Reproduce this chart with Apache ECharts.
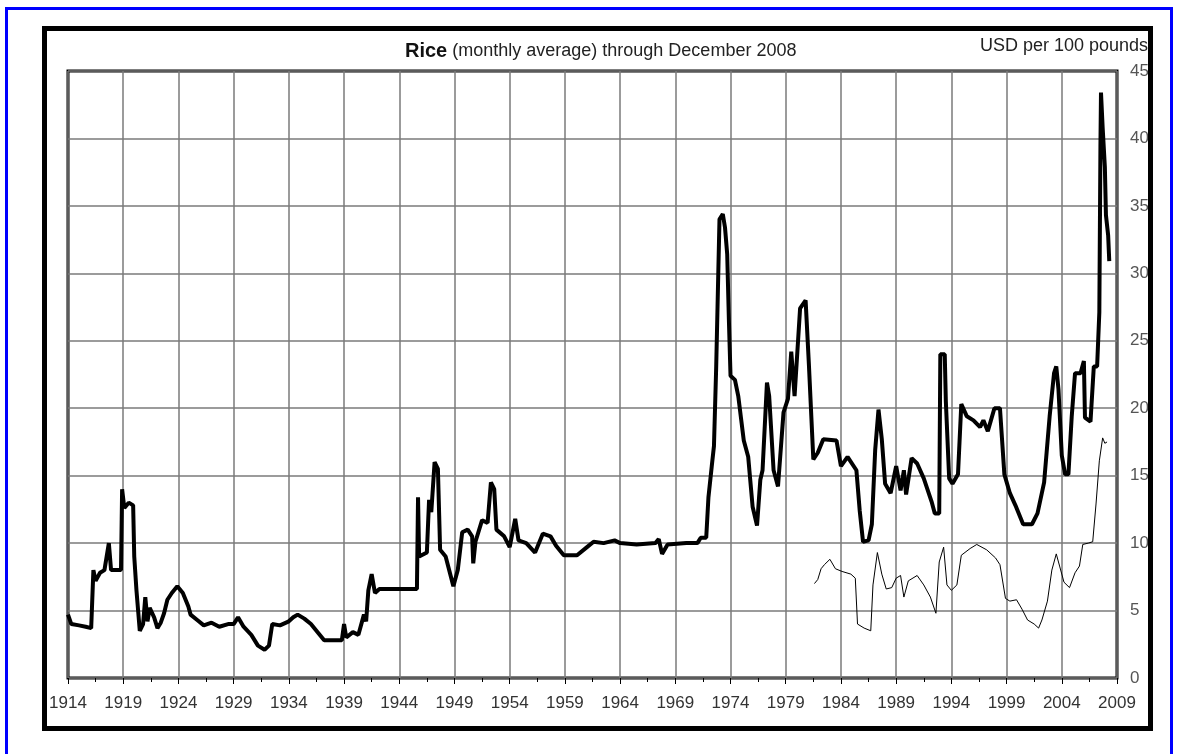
<!DOCTYPE html>
<html>
<head>
<meta charset="utf-8">
<title>Rice monthly average</title>
<script src="https://cdn.jsdelivr.net/npm/echarts@6/dist/echarts.min.js"></script>
<style>
  html, body { margin: 0; padding: 0; background: #fff; }
  #chart { width: 1177px; height: 754px; }
</style>
</head>
<body>
<div id="chart"></div>
<script>
// rice price, USD per 100 pounds (at turning points)
let mainYears = [
  1914.0, 1914.3, 1915.0, 1915.6, 1916.1, 1916.3, 1916.5, 1916.9, 1917.3, 1917.7,
  1917.9, 1918.8, 1918.9, 1919.1, 1919.5, 1919.9, 1920.0, 1920.2, 1920.5, 1920.8,
  1921.0, 1921.2, 1921.4, 1921.8, 1922.1, 1922.4, 1922.7, 1923.0, 1923.4, 1923.9,
  1924.4, 1924.9, 1925.1, 1925.7, 1926.3, 1927.0, 1927.7, 1928.5, 1929.0, 1929.4,
  1929.9, 1930.6, 1931.2, 1931.8, 1932.2, 1932.5, 1933.2, 1934.0, 1934.4, 1934.8,
  1935.4, 1936.0, 1936.7, 1937.2, 1938.0, 1938.8, 1939.0, 1939.2, 1939.8, 1940.3,
  1940.8, 1941.0, 1941.2, 1941.5, 1941.8, 1942.2, 1945.6, 1945.7, 1945.8, 1946.5,
  1946.7, 1946.9, 1947.2, 1947.5, 1947.7, 1948.2, 1948.9, 1949.3, 1949.7, 1950.2,
  1950.6, 1950.7, 1950.9, 1951.5, 1952.0, 1952.3, 1952.6, 1952.8, 1953.5, 1954.0,
  1954.5, 1954.8, 1955.5, 1956.3, 1957.0, 1957.7, 1958.2, 1958.9, 1960.1, 1961.0,
  1961.6, 1962.5, 1963.5, 1964.0, 1965.5, 1967.2, 1967.5, 1967.8, 1968.3, 1970.0,
  1971.0, 1971.3, 1971.8, 1972.0, 1972.3, 1972.5, 1972.7, 1973.0, 1973.3, 1973.5,
  1973.7, 1973.85, 1974.0, 1974.4, 1974.7, 1975.2, 1975.6, 1976.0, 1976.4, 1976.7,
  1976.9, 1977.3, 1977.5, 1977.9, 1978.3, 1978.8, 1979.2, 1979.5, 1979.8, 1980.3,
  1980.8, 1981.1, 1981.5, 1981.9, 1982.4, 1983.6, 1984.0, 1984.6, 1985.4, 1985.7,
  1986.0, 1986.5, 1986.8, 1987.1, 1987.4, 1987.7, 1988.0, 1988.5, 1989.0, 1989.4,
  1989.7, 1989.9, 1990.4, 1990.9, 1991.5, 1992.2, 1992.5, 1992.9, 1993.0, 1993.4,
  1993.5, 1993.8, 1994.1, 1994.6, 1994.9, 1995.4, 1996.0, 1996.6, 1996.9, 1997.3,
  1997.9, 1998.4, 1998.8, 1999.3, 1999.8, 2000.5, 2001.3, 2001.8, 2002.4, 2002.9,
  2003.3, 2003.5, 2003.7, 2004.0, 2004.3, 2004.6, 2004.9, 2005.2, 2005.7, 2006.0,
  2006.1, 2006.6, 2006.9, 2007.2, 2007.4, 2007.5, 2007.55, 2007.7, 2007.9, 2008.0,
  2008.2, 2008.3
]
let mainPrices = [
  4.7, 4.0, 3.9, 3.8, 3.7, 8.0, 7.2, 7.8, 8.0, 10.0,
  8.0, 8.0, 14.0, 12.6, 13.0, 12.8, 9.0, 6.5, 3.5, 4.0,
  6.0, 4.2, 5.2, 4.5, 3.7, 4.1, 4.8, 5.8, 6.3, 6.8,
  6.3, 5.3, 4.7, 4.3, 3.9, 4.1, 3.8, 4.0, 4.0, 4.5,
  3.8, 3.2, 2.4, 2.1, 2.4, 4.0, 3.9, 4.2, 4.5, 4.7,
  4.4, 4.0, 3.3, 2.8, 2.8, 2.8, 4.0, 3.0, 3.4, 3.2,
  4.7, 4.2, 6.5, 7.7, 6.3, 6.6, 6.6, 13.4, 9.0, 9.3,
  13.2, 12.3, 16.0, 15.5, 9.5, 9.0, 6.8, 8.0, 10.8, 11.0,
  10.5, 8.5, 10.1, 11.7, 11.5, 14.5, 14.0, 11.0, 10.5, 9.7,
  11.8, 10.2, 10.0, 9.3, 10.7, 10.5, 9.8, 9.1, 9.1, 9.7,
  10.1, 10.0, 10.2, 10.0, 9.9, 10.0, 10.3, 9.2, 9.9, 10.0,
  10.0, 10.4, 10.4, 13.4, 15.7, 17.2, 23.0, 34.0, 34.4, 33.4,
  31.4, 26.6, 22.4, 22.1, 20.9, 17.6, 16.4, 12.7, 11.3, 14.7,
  15.4, 21.9, 20.9, 15.4, 14.2, 19.7, 20.7, 24.2, 20.9, 27.4,
  28.0, 23.2, 16.2, 16.7, 17.7, 17.6, 15.7, 16.4, 15.4, 12.4,
  10.1, 10.2, 11.4, 16.9, 19.9, 17.7, 14.4, 13.7, 15.7, 13.9,
  15.4, 13.6, 16.3, 15.9, 14.8, 13.1, 12.2, 12.2, 24.0, 24.0,
  20.5, 14.8, 14.4, 15.1, 20.3, 19.4, 19.1, 18.6, 19.1, 18.3,
  20.0, 20.0, 15.1, 13.7, 12.8, 11.4, 11.4, 12.2, 14.5, 19.4,
  22.6, 23.1, 21.4, 16.5, 15.1, 15.1, 19.4, 22.6, 22.6, 23.5,
  19.3, 19.0, 23.1, 23.1, 27.1, 39.4, 43.4, 40.8, 37.9, 34.3,
  32.8, 30.9
]

// second, thinner series from the early 1980s on
let thinYears = [
  1981.6, 1981.9, 1982.2, 1982.5, 1983.0, 1983.5, 1984.1, 1984.9, 1985.3, 1985.5,
  1986.1, 1986.7, 1986.9, 1987.3, 1987.7, 1988.1, 1988.6, 1989.0, 1989.4, 1989.7,
  1990.1, 1990.9, 1991.5, 1992.1, 1992.6, 1992.9, 1993.3, 1993.6, 1994.0, 1994.5,
  1994.9, 1995.7, 1996.3, 1997.2, 1998.0, 1998.4, 1998.9, 1999.3, 1999.9, 2000.4,
  2000.9, 2001.5, 2001.9, 2002.2, 2002.7, 2003.1, 2003.5, 2003.8, 2004.2, 2004.7,
  2005.2, 2005.6, 2005.9, 2006.4, 2006.8, 2007.1, 2007.4, 2007.7, 2007.9, 2008.1
]
let thinPrices = [
  7.0, 7.3, 8.1, 8.4, 8.8, 8.1, 7.9, 7.7, 7.4, 4.0,
  3.7, 3.5, 6.9, 9.3, 7.7, 6.6, 6.7, 7.4, 7.6, 6.0,
  7.2, 7.6, 6.9, 6.0, 4.8, 8.6, 9.7, 6.9, 6.5, 6.9,
  9.1, 9.6, 9.9, 9.5, 8.9, 8.4, 5.9, 5.7, 5.8, 5.1,
  4.3, 4.0, 3.7, 4.3, 5.7, 8.0, 9.2, 8.3, 7.1, 6.7,
  7.8, 8.3, 9.9, 10.0, 10.1, 12.9, 16.1, 17.8, 17.4, 17.5
]

let yearMin = 1914
let yearMax = 2009
let priceMax = 45

function zip (xs, ys) {
  let out = []
  for (let i = 0; i < xs.length; i++) {
    out.push([xs[i], ys[i]])
  }
  return out
}

let font = 'Liberation Sans, Arial, sans-serif'
let chart = echarts.init(document.getElementById('chart'), null, { renderer: 'canvas' })

chart.setOption({
  animation: false,
  backgroundColor: '#fff',
  title: {
    left: 400,
    top: 36,
    text: '{b|Rice} {n|(monthly average) through December 2008}',
    textStyle: {
      fontWeight: 'normal',
      rich: {
        b: { fontFamily: font, fontSize: 20, fontWeight: 'bold', color: '#111' },
        n: { fontFamily: font, fontSize: 18, fontWeight: 'normal', color: '#222' }
      }
    }
  },
  graphic: [
    {
      // blue page border
      type: 'rect',
      shape: { x: 6.5, y: 8.5, width: 1165, height: 800 },
      style: { fill: 'none', stroke: '#0000ff', lineWidth: 3 },
      z: 100
    },
    {
      // black frame around the chart
      type: 'rect',
      shape: { x: 44.5, y: 28.5, width: 1106, height: 700 },
      style: { fill: 'none', stroke: '#000', lineWidth: 5 },
      z: 100
    },
    {
      type: 'text',
      x: 1148,
      y: 37,
      style: {
        text: 'USD per 100 pounds',
        fontFamily: font,
        fontSize: 18,
        fill: '#222',
        textAlign: 'right'
      },
      z: 100
    }
  ],
  grid: {
    left: 68,
    right: 60,
    top: 71,
    bottom: 76,
    show: true,
    borderColor: '#000',
    borderWidth: 3,
    backgroundColor: 'transparent'
  },
  xAxis: {
    type: 'value',
    min: yearMin,
    max: yearMax,
    interval: 5,
    axisLine: { show: false },
    axisTick: { show: true, inside: false, length: 6, lineStyle: { color: '#000', width: 1 } },
    minorTick: { show: true, splitNumber: 2, length: 4, lineStyle: { color: '#000', width: 1 } },
    splitLine: { show: true, lineStyle: { color: '#7a7a7a', width: 1.5 } },
    axisLabel: {
      margin: 17,
      color: '#333',
      fontFamily: font,
      fontSize: 17,
      formatter: function (v) { return String(v) }
    }
  },
  yAxis: {
    type: 'value',
    position: 'right',
    min: 0,
    max: priceMax,
    interval: 5,
    axisLine: { show: false },
    axisTick: { show: false },
    splitLine: { show: true, lineStyle: { color: '#7a7a7a', width: 1.5 } },
    axisLabel: {
      margin: 13,
      color: '#555',
      fontFamily: font,
      fontSize: 17
    }
  },
  series: [
    {
      name: 'rice',
      type: 'line',
      data: zip(mainYears, mainPrices),
      showSymbol: false,
      lineStyle: { color: '#000', width: 4 },
      z: 5
    },
    {
      name: 'rice2',
      type: 'line',
      data: zip(thinYears, thinPrices),
      showSymbol: false,
      lineStyle: { color: '#000', width: 1 },
      z: 4
    }
  ]
})
</script>
</body>
</html>
